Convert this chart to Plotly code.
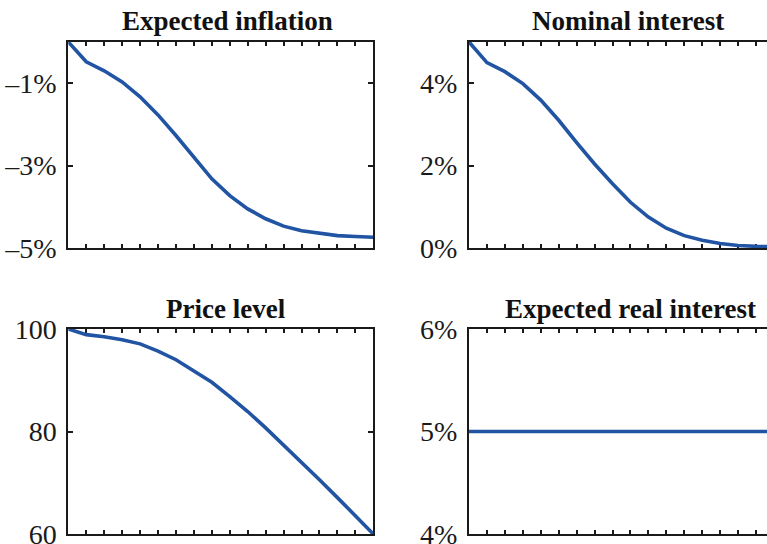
import plotly.graph_objects as go

periods = list(range(18))

expected_inflation = [0.0, -0.48, -0.70, -0.97, -1.33, -1.77, -2.27, -2.80, -3.32,
                      -3.73, -4.05, -4.29, -4.47, -4.58, -4.65, -4.70, -4.72, -4.74]
nominal_interest = [5.0, 4.50, 4.28, 3.99, 3.59, 3.10, 2.56, 2.04, 1.56,
                    1.11, 0.75, 0.48, 0.30, 0.19, 0.11, 0.06, 0.04, 0.03]
price_level = [100.0, 98.9, 98.5, 97.9, 97.1, 95.7, 94.0, 91.9, 89.6,
               86.8, 83.9, 80.7, 77.4, 74.0, 70.6, 67.1, 63.6, 60.0]
expected_real_interest = [5.0] * 18

titles = ["Expected inflation", "Nominal interest", "Price level", "Expected real interest"]

infl_ticks = [-1, -3, -5]
infl_labels = ["\u20131%", "\u20133%", "\u20135%"]
nom_ticks = [0, 2, 4]
nom_labels = ["0%", "2%", "4%"]
price_ticks = [60, 80, 100]
price_labels = ["60", "80", "100"]
real_ticks = [4, 5, 6]
real_labels = ["4%", "5%", "6%"]

W, H = 767, 544
BLUE = "#2154a3"
FONT = "Liberation Serif"

fig = go.Figure()

panels = [
    (expected_inflation, "x", "y", [-5, 0], infl_ticks, infl_labels, 68.3, 373.3, 42, 248, False),
    (nominal_interest, "x2", "y2", [0, 5], nom_ticks, nom_labels, 469, 767, 42, 248, True),
    (price_level, "x3", "y3", [60, 100], price_ticks, price_labels, 68.3, 373.3, 329, 534, False),
    (expected_real_interest, "x4", "y4", [4, 6], real_ticks, real_labels, 469, 767, 329, 534, True),
]

unit_px = (373.3 - 68.3) / 17.0

for i, (vals, xa, ya, yr, tv, tt, xl, xr, yt, yb, cut) in enumerate(panels):
    fig.add_trace(go.Scatter(x=periods, y=vals, mode="lines", xaxis=xa, yaxis=ya,
                             line=dict(color=BLUE, width=3.6), showlegend=False,
                             hoverinfo="skip"))
    xmax = (xr - xl) / unit_px
    suffix = "" if i == 0 else str(i + 1)
    fig.layout["xaxis" + suffix] = dict(
        domain=[xl / W, xr / W], range=[0, xmax], anchor=ya,
        showgrid=False, zeroline=False, showline=True, linecolor="#1a1a1a", linewidth=2,
        mirror="ticks", ticks="inside", ticklen=4, tickwidth=2, tickcolor="#1a1a1a",
        tickmode="array", tickvals=list(range(1, 17)), showticklabels=False,
        layer="below traces", fixedrange=True, automargin=False,
    )
    fig.layout["yaxis" + suffix] = dict(
        domain=[1 - yb / H, 1 - yt / H], range=yr, anchor=xa,
        showgrid=False, zeroline=False, showline=True, linecolor="#1a1a1a", linewidth=2,
        mirror=False if cut else "ticks", ticks="inside", ticklen=5, tickwidth=2,
        tickcolor="#1a1a1a", tickmode="array", tickvals=tv, ticktext=tt,
        tickfont=dict(family=FONT, size=28, color="#1a1a1a"), ticklabelstandoff=4,
        ticklabeloverflow="allow",
        layer="below traces", fixedrange=True, automargin=False,
    )

title_pos = [(228, 21), (628, 21), (226, 309), (630, 309)]
for t, (px, py) in zip(titles, title_pos):
    fig.add_annotation(text="<b>" + t + "</b>", xref="paper", yref="paper",
                       x=px / W, y=1 - py / H, xanchor="center", yanchor="middle",
                       showarrow=False, font=dict(family=FONT, size=27, color="#111111"))

fig.update_layout(width=W, height=H,
                  margin=dict(l=0, r=0, t=0, b=0, pad=0, autoexpand=False),
                  paper_bgcolor="white", plot_bgcolor="white")

fig.write_html("out.html", config={"displayModeBar": False, "staticPlot": True},
               post_script="document.body.style.margin='0px';document.body.style.overflow='hidden';")
